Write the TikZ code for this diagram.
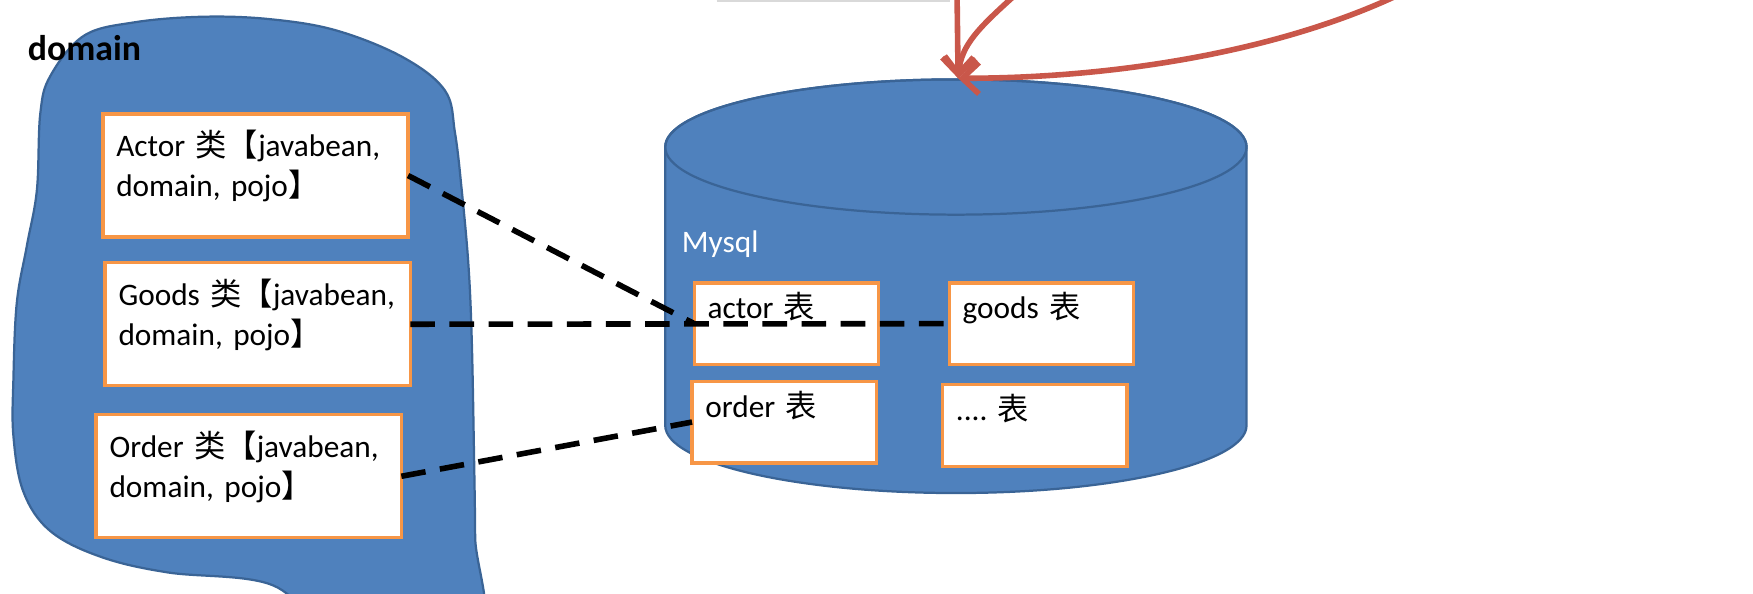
\documentclass[tikz,border=0pt]{standalone}
\usepackage{fontspec}
\setmainfont{Carlito}
\newfontfamily\cjk{Noto Sans CJK SC}
\usetikzlibrary{positioning, arrows.meta}
\definecolor{dbblue}{HTML}{4F81BD}
\definecolor{dbedge}{HTML}{3A6496}
\definecolor{boxorange}{HTML}{F79646}
\definecolor{linkred}{HTML}{C9574A}
\frenchspacing

\begin{document}
\begin{tikzpicture}[
		x=1pt, y=-1pt,
		node distance = 0pt,
		every node/.style = {font=\fontsize{28}{36}\selectfont, outer sep=0pt},
		cls/.style = {draw=boxorange, fill=white, line width=3pt, anchor=north west,
			text width=249pt, align=left, inner xsep=12pt, inner ysep=12pt,
			text height=26pt, text depth=60pt},
		tbl/.style = {draw=boxorange, fill=white, line width=3pt, anchor=north west,
			text width=141pt, align=left, inner xsep=12pt, inner ysep=6pt,
			text height=26pt, text depth=35pt},
		link/.style = {line width=5pt, dash pattern=on 22pt off 13pt},
		feed/.style = {draw=linkred, line width=5pt, -{Straight Barb[length=15pt, width=28pt]}}
	]
	\useasboundingbox (0,0) rectangle (1568,531);
	\clip (0,0) rectangle (1568,531);

	% domain blob
	\filldraw[fill=dbblue, draw=dbedge, line width=2pt] plot[smooth cycle, tension=0.6] coordinates {
		(75,32) (120,20) (180,15) (240,17) (300,27) (360,51) (398,81) (407,119) (413,170)
		(419,237) (422,305) (424,407) (425,480) (425,570) (300,560) (240,522) (150,512)
		(90,498) (45,475) (21,440) (12,390) (12,339) (15,271) (24,220) (33,170) (36,102) (45,68)};
	\node (domainlbl) [anchor=base west, inner sep=0pt, font=\fontsize{32}{38}\selectfont\bfseries] at (25,54) {domain};

	% classes
	\node (actorcls) [cls] at (92,102)                  {Actor {\cjk 类【}javabean,\\domain, pojo{\cjk 】}};
	\node (goodscls) [cls, below=23pt of actorcls, xshift=2pt]  {Goods {\cjk 类【}javabean,\\domain, pojo{\cjk 】}};
	\node (ordercls) [cls, below=26pt of goodscls, xshift=-8pt] {Order {\cjk 类【}javabean,\\domain, pojo{\cjk 】}};

	% database
	\filldraw[fill=dbblue, draw=dbedge, line width=2pt] (595,131.5) -- (595,380.5)
		arc[start angle=180, end angle=360, x radius=260pt, y radius=60.5pt] -- (1115,131.5)
		arc[start angle=0, end angle=180, x radius=260pt, y radius=60.5pt] -- cycle;
	\draw[dbedge, line width=2pt] (855,131.5) ellipse[x radius=260pt, y radius=60.5pt];
	\node (dblbl) [anchor=base west, inner sep=0pt, text=white] at (610,226) {Mysql};

	% tables
	\node (actortbl) [tbl] at (621,253)                     {actor {\cjk 表}};
	\node (goodstbl) [tbl, right=63pt of actortbl]          {goods {\cjk 表}};
	\node (ordertbl) [tbl, below=15pt of actortbl, xshift=-2pt] {order {\cjk 表}};
	\node (dotstbl)  [tbl, right=59pt of ordertbl, yshift=-3pt] {.... {\cjk 表}};

	% mapping
	\draw[link] (actorcls.east) -- (actortbl.west);
	\draw[link] (goodscls.east) -- (goodstbl.west);
	\draw[link] (ordercls.east) -- (ordertbl.west);

	% incoming
	\draw[black!15, line width=1.5pt] (641,0.8) -- (850,0.8);
	\coordinate (dbtop) at (857,70);
	\coordinate (srcA) at (856,-8);
	\coordinate (srcB) at (912,-8);
	\coordinate (srcC) at (1258,-8);
	\draw[feed] (srcA) -- (dbtop);
	\draw[feed] (srcB) .. controls (875,25) and (860,40) .. (dbtop);
	\draw[feed] (srcC) .. controls (1150,45) and (1000,70) .. (dbtop);
\end{tikzpicture}
\end{document}
